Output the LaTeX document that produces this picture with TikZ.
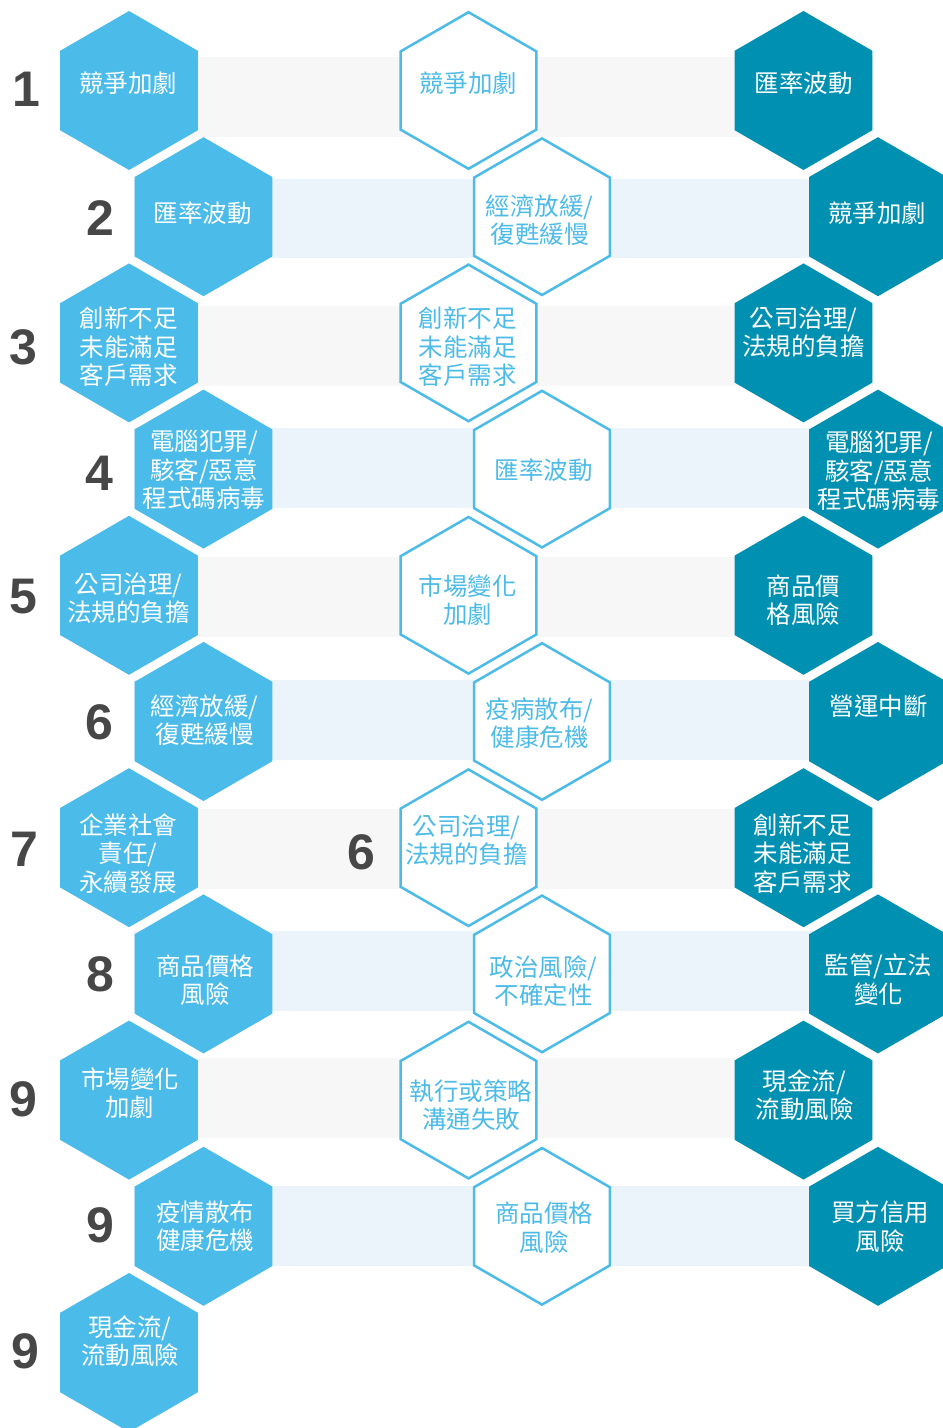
\documentclass[tikz,border=0pt]{standalone}
\usepackage{fontspec}
\newfontfamily\cjk{Noto Sans CJK TC}
\newfontfamily\numfont{Liberation Sans}
\definecolor{lblue}{HTML}{4BBBEA}
\definecolor{dteal}{HTML}{0090B2}
\definecolor{mline}{HTML}{4DBBE8}
\definecolor{bandA}{HTML}{F7F7F7}
\definecolor{bandB}{HTML}{EBF3FB}
\definecolor{numgray}{HTML}{474747}
\newcommand\hexat[3]{\path[#1] ({#2},{#3-79.5}) -- ({#2+68.8},{#3-39.75}) -- ({#2+68.8},{#3+39.75}) -- ({#2},{#3+79.5}) -- ({#2-68.8},{#3+39.75}) -- ({#2-68.8},{#3-39.75}) -- cycle;}
\newcommand\hexout[2]{\path[midhex] ({#1},{#2-78.3}) -- ({#1+67.8},{#2-39.15}) -- ({#1+67.8},{#2+39.15}) -- ({#1},{#2+78.3}) -- ({#1-67.8},{#2+39.15}) -- ({#1-67.8},{#2-39.15}) -- cycle;}
\begin{document}
\begin{tikzpicture}[x=1pt,y=-1pt,
  lefthex/.style={fill=lblue},
  righthex/.style={fill=dteal},
  midhex/.style={fill=white,draw=mline,line width=2.5pt,line join=miter},
  ctext/.style={font=\cjk\fontsize{24.5}{28.5}\selectfont,align=center,inner sep=0pt},
  wtext/.style={ctext,text=white},
  btext/.style={ctext,text=mline},
  numtext/.style={font=\numfont\bfseries\fontsize{50}{50}\selectfont,text=numgray,inner sep=0pt}]
\useasboundingbox (0,0) rectangle (943,1428);
% bands
\fill[bandA] (60,57) rectangle (873,137);
\fill[bandB] (134,179) rectangle (943,258);
\fill[bandA] (60,306) rectangle (873,386);
\fill[bandB] (134,428) rectangle (943,508);
\fill[bandA] (60,557) rectangle (873,637);
\fill[bandB] (134,680) rectangle (943,760);
\fill[bandA] (60,809) rectangle (873,889);
\fill[bandB] (134,931) rectangle (943,1011);
\fill[bandA] (60,1058) rectangle (873,1138);
\fill[bandB] (134,1186) rectangle (943,1266);
% left hexes
\hexat{lefthex}{129}{90.5}
\hexat{lefthex}{203.5}{216.7}
\hexat{lefthex}{129}{342.9}
\hexat{lefthex}{203.5}{469.1}
\hexat{lefthex}{129}{595.3}
\hexat{lefthex}{203.5}{721.5}
\hexat{lefthex}{129}{847.7}
\hexat{lefthex}{203.5}{973.9}
\hexat{lefthex}{129}{1100.1}
\hexat{lefthex}{203.5}{1226.3}
\hexat{lefthex}{129}{1352.5}
% middle hexes
\hexout{468.5}{90.5}
\hexout{542}{216.7}
\hexout{468.5}{342.9}
\hexout{542}{469.1}
\hexout{468.5}{595.3}
\hexout{542}{721.5}
\hexout{468.5}{847.7}
\hexout{542}{973.9}
\hexout{468.5}{1100.1}
\hexout{542}{1226.3}
% right hexes
\hexat{righthex}{803.5}{90.5}
\hexat{righthex}{878}{216.7}
\hexat{righthex}{803.5}{342.9}
\hexat{righthex}{878}{469.1}
\hexat{righthex}{803.5}{595.3}
\hexat{righthex}{878}{721.5}
\hexat{righthex}{803.5}{847.7}
\hexat{righthex}{878}{973.9}
\hexat{righthex}{803.5}{1100.1}
\hexat{righthex}{878}{1226.3}
% numbers
\node[numtext] (n1) at (26,89.5) {1};
\node[numtext] (n2) at (100,218) {2};
\node[numtext] (n3) at (23,347) {3};
\node[numtext] (n4) at (99.5,473) {4};
\node[numtext] (n5) at (23,597) {5};
\node[numtext] (n6) at (99.5,722) {6};
\node[numtext] (n7) at (24.5,849) {7};
\node[numtext] (n8) at (100,974.5) {8};
\node[numtext] (n9) at (23,1099) {9};
\node[numtext] (n10) at (100,1225) {9};
\node[numtext] (n11) at (25,1351) {9};
\node[numtext] (n12) at (361,852.5) {6};
% left texts
\node[wtext] (l1) at (128,83) {競爭加劇};
\node[wtext] (l2) at (202.5,213) {匯率波動};
\node[wtext] (l3) at (128.5,347) {創新不足\\未能滿足\\客戶需求};
\node[wtext] (l4) at (204,470) {電腦犯罪/\\駭客/惡意\\程式碼病毒};
\node[wtext] (l5) at (128.5,598) {公司治理/\\法規的負擔};
\node[wtext] (l6) at (204.5,720) {經濟放緩/\\復甦緩慢};
\node[wtext] (l7) at (128,853.5) {企業社會\\責任/\\永續發展};
\node[wtext] (l8) at (205,980) {商品價格\\風險};
\node[wtext] (l9) at (130,1093) {市場變化\\加劇};
\node[wtext] (l10) at (205,1226) {疫情散布\\健康危機};
\node[wtext] (l11) at (130,1341) {現金流/\\流動風險};
% middle texts
\node[btext] (m1) at (468,83.5) {競爭加劇};
\node[btext] (m2) at (539.5,220) {經濟放緩/\\復甦緩慢};
\node[btext] (m3) at (467.5,347) {創新不足\\未能滿足\\客戶需求};
\node[btext] (m4) at (543.5,470) {匯率波動};
\node[btext] (m5) at (467.5,600) {市場變化\\加劇};
\node[btext] (m6) at (539.5,723) {疫病散布/\\健康危機};
\node[btext] (m7) at (466.5,840) {公司治理/\\法規的負擔};
\node[btext] (m8) at (543.5,981) {政治風險/\\不確定性};
\node[btext] (m9) at (471,1105) {執行或策略\\溝通失敗};
\node[btext] (m10) at (544,1227.5) {商品價格\\風險};
% right texts
\node[wtext] (r1) at (803.5,83.5) {匯率波動};
\node[wtext] (r2) at (877,213) {競爭加劇};
\node[wtext] (r3) at (803.5,332) {公司治理/\\法規的負擔};
\node[wtext] (r4) at (879,471) {電腦犯罪/\\駭客/惡意\\程式碼病毒};
\node[wtext] (r5) at (803.5,600) {商品價\\格風險};
\node[wtext] (r6) at (878.5,706) {營運中斷};
\node[wtext] (r7) at (802.5,853.5) {創新不足\\未能滿足\\客戶需求};
\node[wtext] (r8) at (878.5,979.5) {監管/立法\\變化};
\node[wtext] (r9) at (804.5,1095) {現金流/\\流動風險};
\node[wtext] (r10) at (880,1226.5) {買方信用\\風險};
\end{tikzpicture}
\end{document}
